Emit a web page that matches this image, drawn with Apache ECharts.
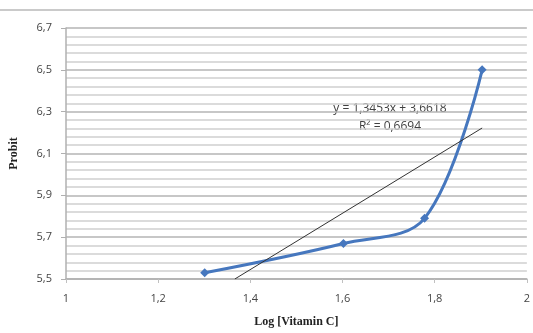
<!DOCTYPE html>
<html>
<head>
<meta charset="utf-8">
<script src="https://cdn.jsdelivr.net/npm/echarts@6/dist/echarts.min.js"></script>
<style>
  html, body { margin: 0; padding: 0; background: #fff; }
  #chart { width: 533px; height: 333px; }
</style>
</head>
<body>
<div id="chart"></div>
<script>
// data
const logVitC = [1.301, 1.602, 1.778, 1.903];
const probit = [5.53, 5.67, 5.79, 6.50];
// trendline from the printed equation
const slope = 1.3453;
const intercept = 3.6618;
const trendX = [1.3664, 1.903];
const eqText = ["y = 1,3453x + 3,6618", "R² = 0,6694"];

const comma = function (v) {
    return String(Math.round(v * 10) / 10).replace(".", ",");
};

let myChart = echarts.init(document.getElementById("chart"));
let option = {
    animation: false,
    grid: { left: 66, right: 5, top: 28, bottom: 52 },
    xAxis: {
        type: "value",
        min: 1,
        max: 2,
        interval: 0.2,
        name: "Log [Vitamin C]",
        nameLocation: "middle",
        nameGap: 37,
        nameTextStyle: { fontFamily: "Liberation Serif", fontWeight: "bold", fontSize: 12, color: "#222" },
        axisLine: { show: true, lineStyle: { color: "#b0b0b0", width: 1.5 } },
        axisTick: { show: true, length: 4, lineStyle: { color: "#c0c0c0" } },
        axisLabel: { formatter: comma, color: "#444", fontSize: 11, margin: 14, fontFamily: "Open Sans" },
        splitLine: { show: false }
    },
    yAxis: {
        type: "value",
        min: 5.5,
        max: 6.7,
        interval: 0.2,
        name: "Probit",
        nameLocation: "middle",
        nameGap: 46,
        nameTextStyle: { fontFamily: "Liberation Serif", fontWeight: "bold", fontSize: 12, color: "#222" },
        axisLine: { show: true, lineStyle: { color: "#b0b0b0", width: 1.5 } },
        axisTick: { show: true, length: 5, lineStyle: { color: "#b0b0b0" } },
        axisLabel: { formatter: function (v) { return v.toFixed(1).replace(".", ","); }, color: "#444", fontSize: 11, margin: 14, fontFamily: "Open Sans" },
        splitLine: { show: true, lineStyle: { color: "#b4b4b4", width: 1.5 } },
        minorTick: { show: false, splitNumber: 5 },
        minorSplitLine: { show: true, lineStyle: { color: "#cfcfcf", width: 1.5 } }
    },
    graphic: [
        { type: "line", shape: { x1: 0, y1: 10, x2: 533, y2: 10 }, style: { stroke: "#b8b8b8", lineWidth: 1.5 } },
        { type: "text", x: 390, y: 109, style: { text: eqText[0], fill: "#404040", font: "12px 'Open Sans'", align: "center", verticalAlign: "middle" } },
        { type: "text", x: 390, y: 127, style: { text: eqText[1], fill: "#404040", font: "12px 'Open Sans'", align: "center", verticalAlign: "middle" } }
    ],
    series: [
        {
            name: "Probit",
            type: "line",
            smooth: 0.35,
            symbol: "diamond",
            symbolSize: 9,
            data: logVitC.map(function (x, i) { return [x, probit[i]]; }),
            lineStyle: { color: "#4677be", width: 3 },
            itemStyle: { color: "#4677be" },
            z: 3
        },
        {
            name: "Trend",
            type: "line",
            symbol: "none",
            data: trendX.map(function (x) { return [x, slope * x + intercept]; }),
            lineStyle: { color: "#333", width: 1 },
            z: 4
        }
    ]
};
myChart.setOption(option);
</script>
</body>
</html>
